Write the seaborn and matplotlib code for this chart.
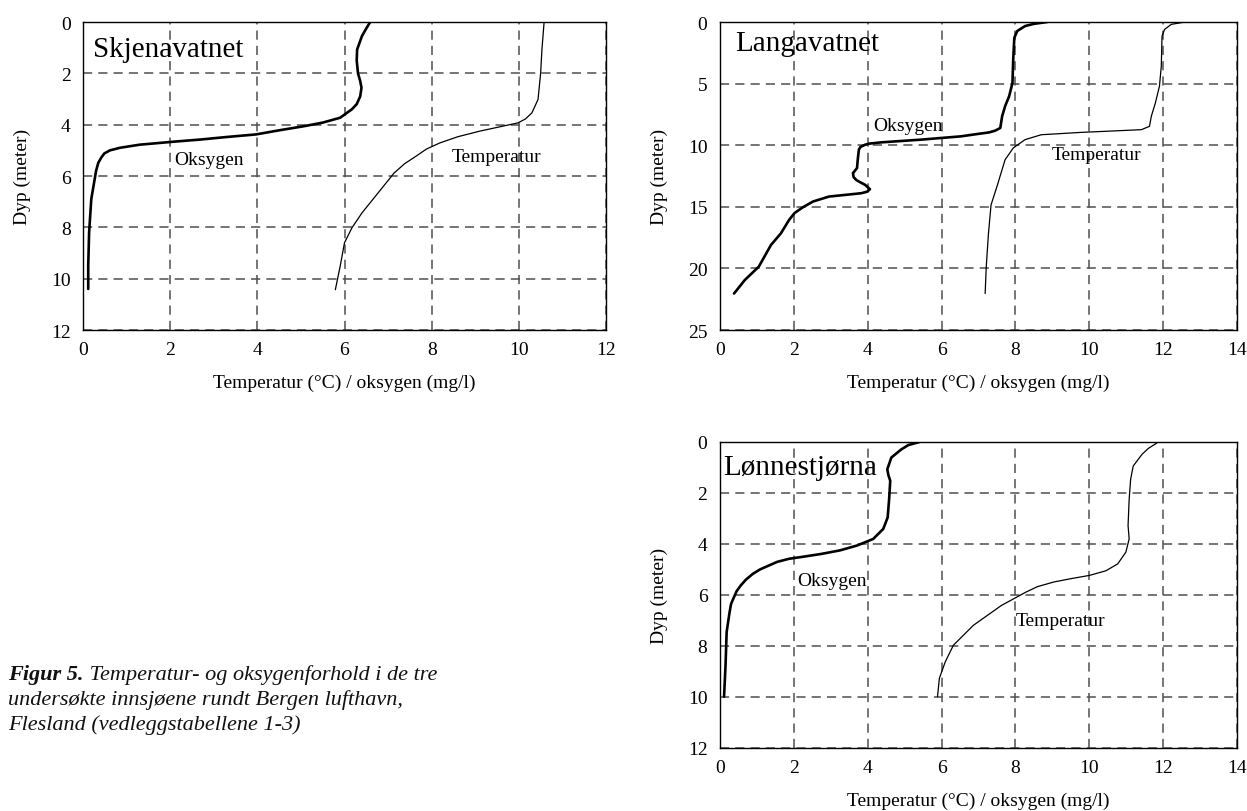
import matplotlib
matplotlib.use("Agg")
import matplotlib.pyplot as plt
import seaborn as sns

# ---------------- data ----------------
# Skjenavatnet
skj_oxy_x = [6.59, 6.50, 6.40, 6.29, 6.28, 6.31, 6.36, 6.39, 6.36, 6.28, 6.17, 5.90, 5.50, 5.07, 4.50, 3.97, 3.30, 2.69,
             2.10, 1.77, 1.30, 0.85, 0.62, 0.49, 0.42, 0.35, 0.30, 0.26, 0.19, 0.14, 0.12, 0.12]
skj_oxy_d = [0.00, 0.25, 0.55, 1.07, 1.50, 2.00, 2.30, 2.56, 2.90, 3.20, 3.40, 3.73, 3.92, 4.06, 4.22, 4.38, 4.48, 4.58,
             4.66, 4.71, 4.78, 4.90, 5.00, 5.12, 5.28, 5.49, 5.80, 6.20, 6.90, 8.20, 9.50, 10.40]
skj_tmp_x = [10.58, 10.53, 10.50, 10.44, 10.30, 10.15, 9.98, 9.60, 9.11, 8.60, 8.19, 7.88, 7.64, 7.38, 7.14, 6.77, 6.40,
             6.17, 6.00, 5.90, 5.79]
skj_tmp_d = [0.00, 1.07, 2.00, 3.02, 3.54, 3.78, 3.93, 4.07, 4.25, 4.47, 4.71, 4.95, 5.23, 5.52, 5.88, 6.66, 7.44,
             8.02, 8.60, 9.52, 10.43]

# Langavatnet
lan_oxy_x = [8.86, 8.50, 8.26, 8.05, 7.97, 7.94, 7.92, 7.83, 7.72, 7.64, 7.59, 7.45, 7.29, 6.90, 6.53, 5.44, 4.36, 4.05,
             3.93, 3.80, 3.76, 3.73, 3.71, 3.60, 3.62, 3.70, 3.93, 4.06, 3.98, 3.82, 3.40, 2.95, 2.52, 2.25, 2.02, 1.87,
             1.65, 1.38, 1.05, 0.67, 0.38]
lan_oxy_d = [0.00, 0.15, 0.33, 0.73, 1.28, 3.04, 4.94, 6.02, 6.84, 7.65, 8.60, 8.82, 8.96, 9.12, 9.28, 9.55, 9.77, 9.87,
             9.96, 10.15, 10.37, 11.18, 11.86, 12.27, 12.60, 12.85, 13.22, 13.57, 13.78, 13.90, 14.03, 14.17, 14.57,
             15.03, 15.50, 16.07, 17.15, 18.10, 19.86, 20.95, 22.04]
lan_tmp_x = [12.60, 12.22, 12.04, 11.97, 11.95, 11.90, 11.79, 11.68, 11.63, 11.41, 10.60, 9.78, 8.70, 8.26, 7.94, 7.72,
             7.50, 7.34, 7.27, 7.21, 7.18]
lan_tmp_d = [0.00, 0.19, 0.60, 1.14, 3.58, 5.21, 6.57, 7.65, 8.47, 8.74, 8.85, 8.96, 9.15, 9.55, 10.23, 11.18,
             13.35, 14.84, 17.15, 19.86, 22.04]

# Lønnestjørna
lon_oxy_x = [5.40, 5.10, 4.91, 4.64, 4.53, 4.56, 4.61, 4.58, 4.54, 4.42, 4.15, 3.71, 3.25, 2.74, 2.25, 1.87, 1.55, 1.33,
             1.08, 0.89, 0.70, 0.56, 0.45, 0.38, 0.30, 0.26, 0.18, 0.15, 0.11]
lon_oxy_d = [0.00, 0.12, 0.29, 0.61, 1.07, 1.30, 1.52, 2.24, 2.96, 3.41, 3.80, 4.06, 4.25, 4.39, 4.50, 4.58, 4.70, 4.84,
             5.00, 5.17, 5.40, 5.63, 5.85, 6.08, 6.35, 6.67, 7.45, 8.75, 9.99]
lon_tmp_x = [11.84, 11.60, 11.43, 11.19, 11.12, 11.08, 11.05, 11.08, 10.99, 10.77, 10.45, 10.01, 9.50, 9.04, 8.60, 8.28,
             7.62, 6.86, 6.32, 6.10, 5.94, 5.89]
lon_tmp_d = [0.03, 0.25, 0.48, 0.94, 1.46, 2.24, 3.28, 3.80, 4.32, 4.78, 5.05, 5.23, 5.36, 5.49, 5.67, 5.89,
             6.41, 7.19, 7.97, 8.62, 9.27, 9.99]

lake_names = ["Skjenavatnet", "Langavatnet", "Lønnestjørna"]
x_label = "Temperatur (°C) / oksygen (mg/l)"
y_label = "Dyp (meter)"
caption_bold = "Figur 5."
caption_lines = [" Temperatur- og oksygenforhold i de tre",
                 "undersøkte innsjøene rundt Bergen lufthavn,",
                 "Flesland (vedleggstabellene 1-3)"]

# ---------------- style ----------------
sns.set_theme(style="white")
plt.rcParams["font.family"] = ["Liberation Serif", "DejaVu Serif"]
plt.rcParams["text.color"] = "black"
plt.rcParams["axes.labelcolor"] = "black"
plt.rcParams["xtick.color"] = "black"
plt.rcParams["ytick.color"] = "black"

FS = 14
fig = plt.figure(figsize=(12.47, 8.12), dpi=100)

W, H = 1247, 812
def rect(l, t, r, b):
    return [l / W, 1 - b / H, (r - l) / W, (b - t) / H]

ax1 = fig.add_axes(rect(83, 23, 606, 331))
ax2 = fig.add_axes(rect(720, 23, 1237, 331))
ax3 = fig.add_axes(rect(720, 443, 1237, 749))


def panel(ax, name, ox, od, tx, td, xmax, ymax, ystep, name_xy, oxy_xy, tmp_xy):
    ax.set_axisbelow(True)
    ax.grid(True, linestyle=(0, (6, 4)), color="#505050", linewidth=1.1)
    sns.lineplot(x=ox, y=od, sort=False, estimator=None, ax=ax, color="black", linewidth=1.9)
    sns.lineplot(x=tx, y=td, sort=False, estimator=None, ax=ax, color="black", linewidth=0.9)
    ax.set_xlim(0, xmax)
    ax.set_ylim(ymax, 0)
    ax.set_xticks(range(0, xmax + 1, 2))
    ax.set_yticks(range(0, ymax + 1, ystep))
    ax.tick_params(axis="x", direction="in", length=5, width=0.8, labelsize=FS, pad=8)
    ax.tick_params(axis="y", direction="in", length=0, labelsize=FS, pad=9)
    for s in ax.spines.values():
        s.set_color("black")
        s.set_linewidth(1.0)
    ax.set_xlabel(x_label, fontsize=FS, labelpad=11)
    ax.set_ylabel(y_label, fontsize=FS, labelpad=14)
    ax.text(name_xy[0], name_xy[1], name, fontsize=21, ha="left", va="center")
    ax.text(oxy_xy[0], oxy_xy[1], "Oksygen", fontsize=FS, ha="left", va="center")
    ax.text(tmp_xy[0], tmp_xy[1], "Temperatur", fontsize=FS, ha="left", va="center")


panel(ax1, lake_names[0], skj_oxy_x, skj_oxy_d, skj_tmp_x, skj_tmp_d, 12, 12, 2,
      (0.23, 1.05), (2.1, 5.36), (8.47, 5.25))
panel(ax2, lake_names[1], lan_oxy_x, lan_oxy_d, lan_tmp_x, lan_tmp_d, 14, 25, 5,
      (0.4, 1.68), (4.16, 8.41), (8.97, 10.77))
panel(ax3, lake_names[2], lon_oxy_x, lon_oxy_d, lon_tmp_x, lon_tmp_d, 14, 12, 2,
      (0.08, 1.0), (2.1, 5.43), (8.0, 7.0))

# ---------------- caption ----------------
CFS = 16
y0 = 1 - 680 / H
dy = 25 / H
t1 = fig.text(8 / W, y0, caption_bold, fontsize=CFS, fontweight="bold", fontstyle="italic",
              ha="left", va="baseline", color="#111111")
plt.annotate(caption_lines[0], xy=(1, 0), xycoords=t1, xytext=(0, 0), textcoords="offset points",
             fontsize=CFS, fontstyle="italic", ha="left", va="bottom", color="#111111",
             annotation_clip=False)
for i, line in enumerate(caption_lines[1:], start=1):
    fig.text(8 / W, y0 - i * dy, line, fontsize=CFS, fontstyle="italic", ha="left",
             va="baseline", color="#111111")

fig.savefig("out.png", dpi=100)
